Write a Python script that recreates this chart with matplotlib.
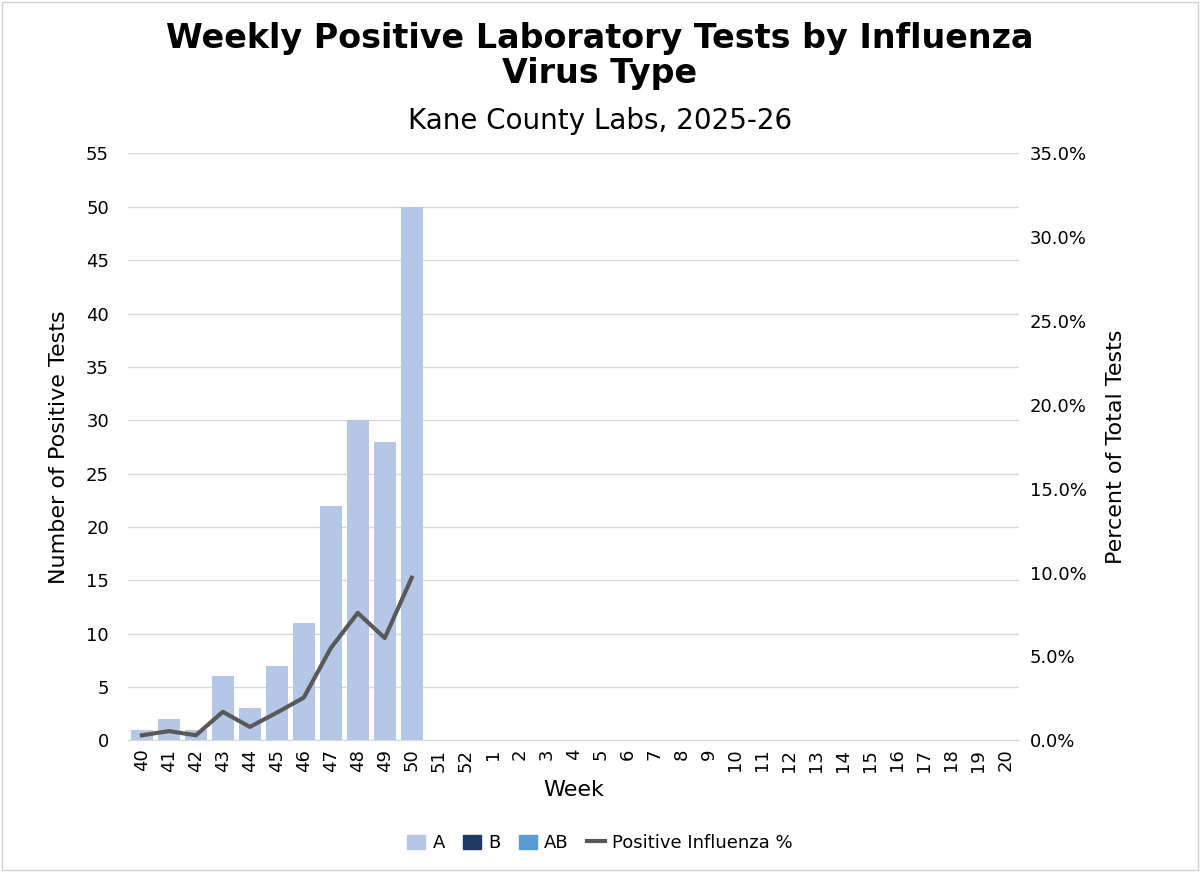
import matplotlib.pyplot as plt
import numpy as np
from matplotlib.lines import Line2D
from matplotlib.patches import Patch

WEEKS = [str(w) for w in list(range(40, 53)) + list(range(1, 21))]
COUNT_A = [1, 2, 1, 6, 3, 7, 11, 22, 30, 28, 50]
COUNT_B = [0] * 11
COUNT_AB = [0] * 11
PCT_POS = [0.3, 0.55, 0.3, 1.7, 0.8, 1.65, 2.55, 5.5, 7.6, 6.1, 9.7]

COL_A = "#b4c7e7"
COL_B = "#203864"
COL_AB = "#5b9bd5"
COL_LINE = "#595959"

fig = plt.figure(figsize=(12, 8.72), dpi=100)
fig.patches.append(plt.Rectangle((0.002, 0.002), 0.996, 0.996, transform=fig.transFigure,
                                 fill=False, edgecolor="#d0d0d0", linewidth=1))
ax = fig.add_axes([0.107, 0.151, 0.742, 0.673])
x = np.arange(len(WEEKS))
n = len(COUNT_A)
ax.bar(x[:n], COUNT_A, width=0.82, color=COL_A, zorder=2)
ax.bar(x[:n], COUNT_B, width=0.82, bottom=COUNT_A, color=COL_B, zorder=2)
ax.bar(x[:n], COUNT_AB, width=0.82, bottom=np.add(COUNT_A, COUNT_B), color=COL_AB, zorder=2)
ax.set_xlim(-0.5, len(WEEKS) - 0.5)
ax.set_ylim(0, 55)
ax.set_yticks(range(0, 56, 5))
ax.set_xticks(x)
ax.set_xticklabels(WEEKS, rotation=90, fontsize=13)
ax.tick_params(axis="y", labelsize=13, length=0, pad=14)
ax.tick_params(axis="x", length=0, pad=6)
ax.grid(axis="y", color="#d9d9d9", linewidth=1, zorder=0)
for s in ax.spines.values():
    s.set_visible(False)
ax.spines["bottom"].set_visible(True)
ax.spines["bottom"].set_color("#d9d9d9")
ax.set_ylabel("Number of Positive Tests", fontsize=16, labelpad=12)
ax.set_xlabel("Week", fontsize=16, labelpad=6)

ax2 = ax.twinx()
ax2.plot(x[:n], PCT_POS, color=COL_LINE, linewidth=3, zorder=3)
ax2.set_ylim(0, 35)
ax2.set_yticks(range(0, 36, 5))
ax2.set_yticklabels([f"{v:.1f}%" for v in range(0, 36, 5)], fontsize=13)
ax2.tick_params(axis="y", length=0, pad=8)
for s in ax2.spines.values():
    s.set_visible(False)
ax2.set_ylabel("Percent of Total Tests", fontsize=16, labelpad=14)

fig.text(0.5, 0.975, "Weekly Positive Laboratory Tests by Influenza\nVirus Type",
         ha="center", va="top", fontsize=24, fontweight="bold", linespacing=1.1)
fig.text(0.5, 0.877, "Kane County Labs, 2025-26", ha="center", va="top", fontsize=20)

handles = [Patch(color=COL_A, label="A"), Patch(color=COL_B, label="B"),
           Patch(color=COL_AB, label="AB"),
           Line2D([], [], color=COL_LINE, linewidth=3, label="Positive Influenza %")]
fig.legend(handles=handles, loc="center", bbox_to_anchor=(0.5, 0.033), ncol=4,
           frameon=False, fontsize=13, handlelength=1.0, handleheight=0.9,
           columnspacing=1.0, handletextpad=0.4)

fig.savefig("out.png", dpi=100)
